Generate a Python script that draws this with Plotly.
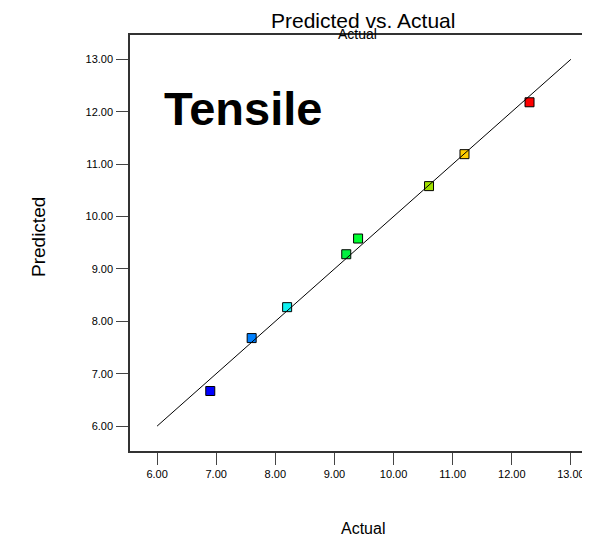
import plotly.graph_objects as go

actual = [6.9, 7.6, 8.2, 9.2, 9.4, 10.6, 11.2, 12.3]
predicted = [6.67, 7.68, 8.27, 9.28, 9.58, 10.58, 11.19, 12.18]
colors = ["#0000FF", "#0080FF", "#10F0F0", "#00F040", "#00FF30", "#A0E000", "#FFCC00", "#FF0000"]
ref_line = [6.0, 13.0]
tick_vals = [6, 7, 8, 9, 10, 11, 12, 13]
tick_text = ["6.00", "7.00", "8.00", "9.00", "10.00", "11.00", "12.00", "13.00"]

FONT = "Liberation Sans, Arial, sans-serif"

# page body has an 8px default margin; compensate
OFF = 8
W, H = 590 - OFF, 537 - OFF
L, T, B = 130 - OFF, 35 - OFF, 86
pw, ph = W - L, H - T - B

fig = go.Figure()
fig.add_trace(go.Scatter(
    x=actual, y=predicted, mode="markers",
    marker=dict(symbol="square", size=9, color=colors,
                line=dict(color="#000000", width=1)),
    showlegend=False, hoverinfo="x+y"))
fig.add_trace(go.Scatter(
    x=ref_line, y=ref_line, mode="lines",
    line=dict(color="#000000", width=1), showlegend=False, hoverinfo="skip"))

axis_common = dict(
    showgrid=False, zeroline=False, showline=True, linecolor="#333333",
    linewidth=1.5, ticks="outside", ticklen=12, tickcolor="#444444", tickwidth=1,
    tickvals=tick_vals, ticktext=tick_text, automargin=False,
    tickfont=dict(family=FONT, size=11, color="#000000"))

def px(x):
    return (x - OFF - L) / pw
def py(y):
    return (H - B - (y - OFF)) / ph

texts = [
    ("Predicted vs. Actual", 363, 20, 21, 0),
    ("Actual", 357, 34, 14, 0),
    ("<b>Tensile</b>", 243, 108, 47, 0),
    ("Predicted", 38, 237, 19, -90),
    ("Actual", 363, 528, 16, 0),
]
annotations = []
for txt, x, y, size, ang in texts:
    annotations.append(dict(
        text=txt, xref="paper", yref="paper", x=px(x), y=py(y),
        xanchor="center", yanchor="middle", showarrow=False, textangle=ang,
        font=dict(family=FONT, size=size, color="#000000")))

fig.update_layout(
    width=W, height=H,
    margin=dict(l=L, r=0, t=T, b=B, autoexpand=False),
    paper_bgcolor="white", plot_bgcolor="white",
    xaxis=dict(range=[5.542, 13.323], mirror=True, ticklabelstandoff=0, **axis_common),
    yaxis=dict(range=[5.525, 13.464], ticklabelstandoff=1, **axis_common),
    annotations=annotations,
)

fig.write_html("out.html")
